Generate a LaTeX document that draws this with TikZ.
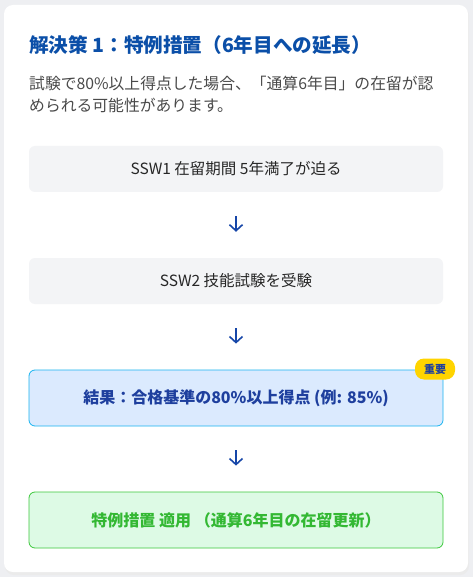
\documentclass[tikz,border=0pt]{standalone}
\usepackage{fontspec}
\setmainfont{Noto Sans CJK JP}
\usetikzlibrary{arrows.meta}

\definecolor{pagebg}{HTML}{EEEFF2}
\definecolor{titleblue}{HTML}{0B4FA8}
\definecolor{bodygray}{HTML}{4A4A4A}
\definecolor{stepfill}{HTML}{F3F4F6}
\definecolor{keyfill}{HTML}{DBEAFE}
\definecolor{keyline}{HTML}{19B4F0}
\definecolor{keytext}{HTML}{1E3F9E}
\definecolor{okfill}{HTML}{DDFAE5}
\definecolor{okline}{HTML}{3CC83C}
\definecolor{oktext}{HTML}{33B833}
\definecolor{badgefill}{HTML}{FFD400}
\definecolor{arrowblue}{HTML}{1646A8}

\tikzset{
  stepbox/.style={rounded corners=6pt, fill=stepfill, minimum width=414pt,
    minimum height=46pt, inner sep=0pt, font=\fontsize{15.5}{17}\selectfont,
    text=black!85},
  keybox/.style={stepbox, fill=keyfill, draw=keyline, line width=0.8pt,
    minimum height=56pt, text=keytext, font=\fontsize{16}{18}\selectfont\bfseries},
  okbox/.style={keybox, fill=okfill, draw=okline, text=oktext},
  flow/.style={-{Straight Barb[length=6pt,width=13pt]}, line width=1.6pt,
    arrowblue, shorten <=24pt, shorten >=26pt}
}

\begin{document}
\begin{tikzpicture}[x=1pt,y=-1pt]
  \useasboundingbox[fill=pagebg] (0,0) rectangle (473,577);
  \fill[black!8,rounded corners=9pt] (5,7) rectangle (469,575);
  \fill[white,rounded corners=9pt] (4,5) rectangle (468,572);

  \node[anchor=west, inner sep=0pt, text=titleblue, font=\fontsize{19.6}{21}\selectfont\bfseries]
    (title) at (29,45) {解決策 1：特例措置（6年目への延長）};
  \node[anchor=north west, text=bodygray, align=left, inner sep=0pt,
    font=\fontsize{15.8}{21.5}\selectfont] (desc) at (29,76)
    {試験で80\%以上得点した場合、「通算6年目」の在留が認\\められる可能性があります。};

  \node[stepbox] (s1) at (236,169) {SSW1 在留期間 5年満了が迫る};
  \node[stepbox] (s2) at (236,281) {SSW2 技能試験を受験};
  \node[keybox] (s3) at (236,398) {結果：合格基準の80\%以上得点 (例: 85\%)};
  \node[okbox] (s4) at (236,520) {特例措置 適用 （通算6年目の在留更新）};

  \node[fill=badgefill, rounded corners=9pt, minimum width=40pt, minimum height=21pt,
    inner sep=0pt, text=keytext, font=\fontsize{11}{12}\selectfont\bfseries]
    (badge) at (435,369) {重要};

  \draw[flow] (s1.south) -- (s2.north);
  \draw[flow] (s2.south) -- (s3.north);
  \draw[flow] (s3.south) -- (s4.north);
\end{tikzpicture}
\end{document}
